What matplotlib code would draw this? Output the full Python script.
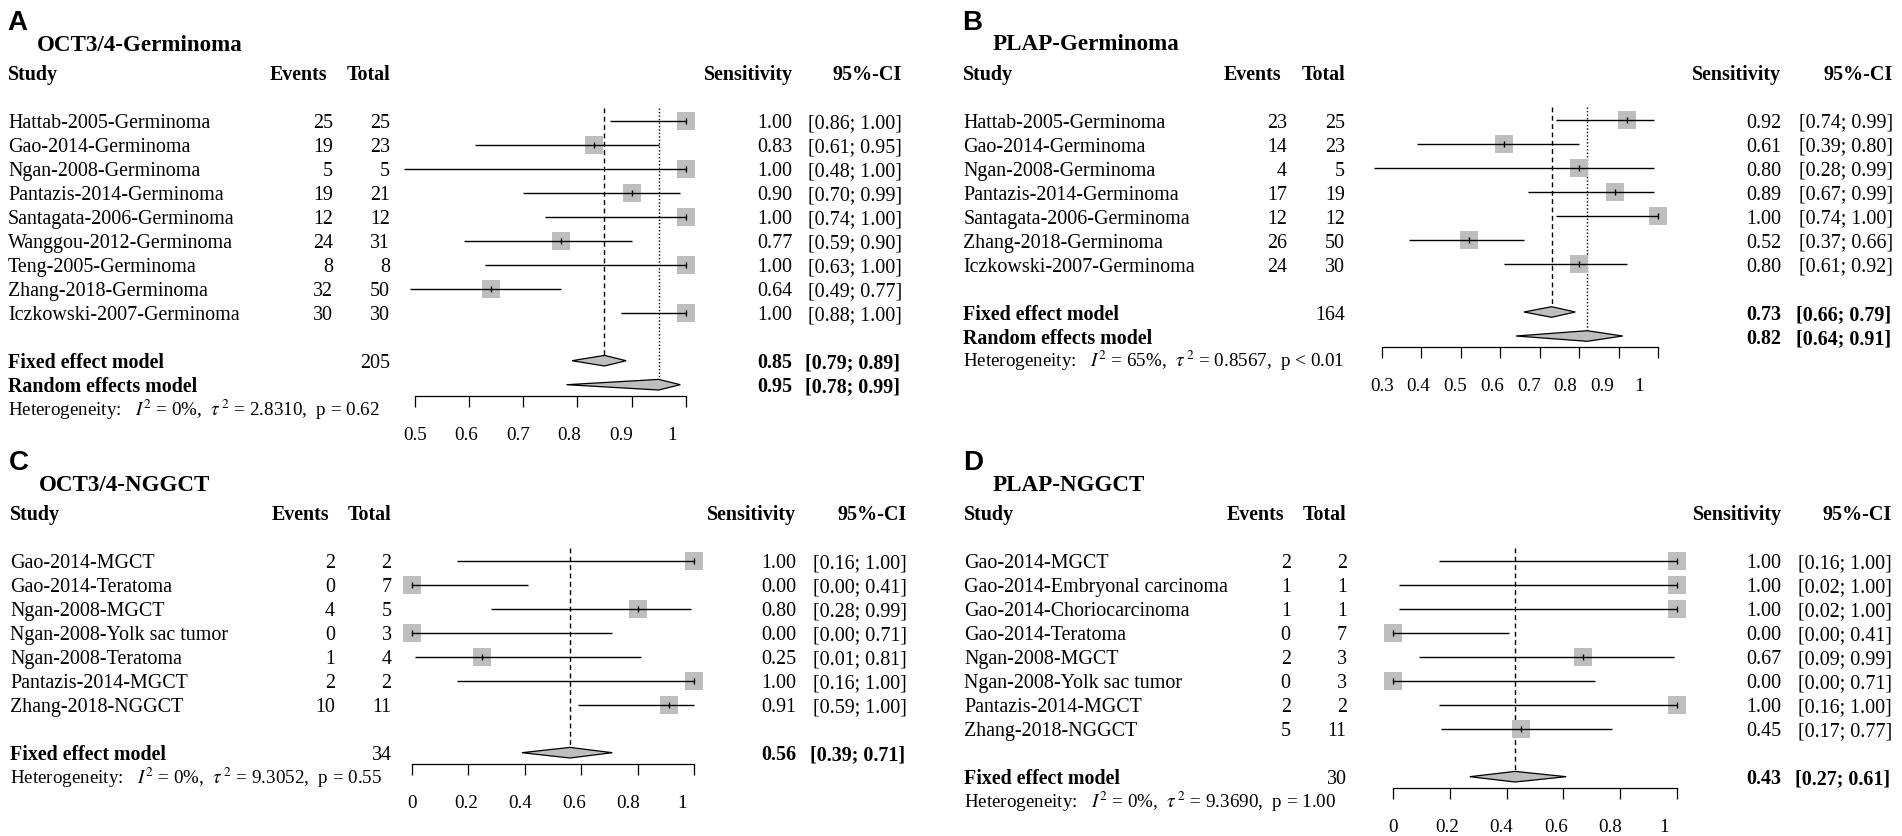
import matplotlib
matplotlib.use("Agg")
import matplotlib.pyplot as plt
from matplotlib.patches import Polygon
from matplotlib.transforms import blended_transform_factory

# ---- data ----
a_studies = ["Hattab-2005-Germinoma", "Gao-2014-Germinoma", "Ngan-2008-Germinoma",
             "Pantazis-2014-Germinoma", "Santagata-2006-Germinoma", "Wanggou-2012-Germinoma",
             "Teng-2005-Germinoma", "Zhang-2018-Germinoma", "Iczkowski-2007-Germinoma"]
a_events = [25, 19, 5, 19, 12, 24, 8, 32, 30]
a_totals = [25, 23, 5, 21, 12, 31, 8, 50, 30]
a_sens = [1.00, 0.83, 1.00, 0.90, 1.00, 0.77, 1.00, 0.64, 1.00]
a_lower = [0.86, 0.61, 0.48, 0.70, 0.74, 0.59, 0.63, 0.49, 0.88]
a_upper = [1.00, 0.95, 1.00, 0.99, 1.00, 0.90, 1.00, 0.77, 1.00]
a_fixed = [0.85, 0.79, 0.89]
a_random = [0.95, 0.78, 0.99]
a_total = 205
a_het = ["0%", "2.8310", "= 0.62"]

b_studies = ["Hattab-2005-Germinoma", "Gao-2014-Germinoma", "Ngan-2008-Germinoma",
             "Pantazis-2014-Germinoma", "Santagata-2006-Germinoma", "Zhang-2018-Germinoma",
             "Iczkowski-2007-Germinoma"]
b_events = [23, 14, 4, 17, 12, 26, 24]
b_totals = [25, 23, 5, 19, 12, 50, 30]
b_sens = [0.92, 0.61, 0.80, 0.89, 1.00, 0.52, 0.80]
b_lower = [0.74, 0.39, 0.28, 0.67, 0.74, 0.37, 0.61]
b_upper = [0.99, 0.80, 0.99, 0.99, 1.00, 0.66, 0.92]
b_fixed = [0.73, 0.66, 0.79]
b_random = [0.82, 0.64, 0.91]
b_total = 164
b_het = ["65%", "0.8567", "< 0.01"]

c_studies = ["Gao-2014-MGCT", "Gao-2014-Teratoma", "Ngan-2008-MGCT", "Ngan-2008-Yolk sac tumor",
             "Ngan-2008-Teratoma", "Pantazis-2014-MGCT", "Zhang-2018-NGGCT"]
c_events = [2, 0, 4, 0, 1, 2, 10]
c_totals = [2, 7, 5, 3, 4, 2, 11]
c_sens = [1.00, 0.00, 0.80, 0.00, 0.25, 1.00, 0.91]
c_lower = [0.16, 0.00, 0.28, 0.00, 0.01, 0.16, 0.59]
c_upper = [1.00, 0.41, 0.99, 0.71, 0.81, 1.00, 1.00]
c_fixed = [0.56, 0.39, 0.71]
c_total = 34
c_het = ["0%", "9.3052", "= 0.55"]

d_studies = ["Gao-2014-MGCT", "Gao-2014-Embryonal carcinoma", "Gao-2014-Choriocarcinoma",
             "Gao-2014-Teratoma", "Ngan-2008-MGCT", "Ngan-2008-Yolk sac tumor",
             "Pantazis-2014-MGCT", "Zhang-2018-NGGCT"]
d_events = [2, 1, 1, 0, 2, 0, 2, 5]
d_totals = [2, 1, 1, 7, 3, 3, 2, 11]
d_sens = [1.00, 1.00, 1.00, 0.00, 0.67, 0.00, 1.00, 0.45]
d_lower = [0.16, 0.02, 0.02, 0.00, 0.09, 0.00, 0.16, 0.17]
d_upper = [1.00, 1.00, 1.00, 0.41, 0.99, 0.71, 1.00, 0.77]
d_fixed = [0.43, 0.27, 0.61]
d_total = 30
d_het = ["0%", "9.3690", "= 1.00"]

a_ticks = [0.5, 0.6, 0.7, 0.8, 0.9, 1.0]
a_ticklabels = ["0.5", "0.6", "0.7", "0.8", "0.9", "1"]
b_ticks = [0.3, 0.4, 0.5, 0.6, 0.7, 0.8, 0.9, 1.0]
b_ticklabels = ["0.3", "0.4", "0.5", "0.6", "0.7", "0.8", "0.9", "1"]
cd_ticks = [0, 0.2, 0.4, 0.6, 0.8, 1.0]
cd_ticklabels = ["0", "0.2", "0.4", "0.6", "0.8", "1"]

W, H = 1902, 837
GRAY = "#BEBEBE"
ROW = 24.0

plt.rcParams['font.family'] = ['Liberation Serif', 'DejaVu Serif']
plt.rcParams['mathtext.fontset'] = 'stix'

fig = plt.figure(figsize=(W / 100, H / 100), dpi=100)


def draw_panel(letter, title, studies, events, totals, sens, lower, upper,
               models, total_all, het, ticks, ticklabels, lay):
    n = len(studies)
    model_rows = [n + 1 + i for i in range(len(models))]
    last = model_rows[-1]
    het_row = last + 1
    axis_row = last + 0.47
    label_row = last + 2.0
    rt, rb = -4.8, label_row + 1.0

    row0 = lay["row0"]
    py_top = row0 + ROW * rt
    py_bot = row0 + ROW * rb
    ax = fig.add_axes([lay["lo_px"] / W, 1 - py_bot / H,
                       (lay["hi_px"] - lay["lo_px"]) / W, (py_bot - py_top) / H])
    lo, hi = ticks[0], ticks[-1]
    ax.set_xlim(lo, hi)
    ax.set_ylim(rb, rt)
    ax.patch.set_visible(False)
    for s in ["top", "left", "right"]:
        ax.spines[s].set_visible(False)
    ax.spines["bottom"].set_position(("data", axis_row))
    ax.spines["bottom"].set_linewidth(0.9)
    ax.set_yticks([])
    ax.set_xticks(ticks)
    ax.tick_params(axis="x", direction="out", length=8, width=0.9, labelbottom=False)

    tx = blended_transform_factory(fig.transFigure, ax.transData)

    def txt(px, r, s, ha="left", bold=False, size=14.4, dy=6.6, family=None):
        kw = {}
        if family:
            kw["family"] = family
        ax.text(px / W, r + dy / ROW, s, transform=tx, ha=ha, va="baseline",
                fontsize=size, fontweight="bold" if bold else "normal",
                clip_on=False, **kw)

    sx = lay["study_x"]
    txt(sx - 1, -4.17, letter, size=20, dy=8.8, bold=True,
        family=["Liberation Sans", "DejaVu Sans"])
    txt(sx + 29, -3.27, title, size=16.6, dy=7.6, bold=True)

    txt(sx, -2, "Study", bold=True)
    txt(lay["ev_r"] - 6, -2, "Events", ha="right", bold=True)
    txt(lay["tot_r"], -2, "Total", ha="right", bold=True)
    txt(lay["sens_r"], -2, "Sensitivity", ha="right", bold=True)
    txt(lay["ci_r"], -2, "95%-CI", ha="right", bold=True)

    rows = list(range(n))
    for i in rows:
        txt(sx, i, studies[i])
        txt(lay["ev_r"], i, str(events[i]), ha="right")
        txt(lay["tot_r"], i, str(totals[i]), ha="right")
        txt(lay["sens_r"], i, "%.2f" % sens[i], ha="right")
        txt(lay["ci_r"], i, "[%.2f; %.2f]" % (lower[i], upper[i]), ha="right")

    ax.scatter(sens, rows, marker="s", s=(18 * 0.72) ** 2, color=GRAY,
               linewidths=0, zorder=2, clip_on=False)
    ax.hlines(rows, lower, upper, color="black", lw=1.0, zorder=3, clip_on=False)
    ax.plot(sens, rows, linestyle="none", marker="|", markersize=5, mew=1.0,
            color="black", zorder=4, clip_on=False)

    dh = 5.3 / ROW
    for (name, vals, ls), r in zip(models, model_rows):
        est, mlo, mhi = vals
        txt(sx, r, name, bold=True)
        if name.startswith("Fixed"):
            txt(lay["tot_r"], r, str(total_all), ha="right")
        txt(lay["sens_r"], r, "%.2f" % est, ha="right", bold=True)
        txt(lay["ci_r"] - 2, r, "[%.2f; %.2f]" % (mlo, mhi), ha="right", bold=True)
        ax.add_patch(Polygon([(mlo, r), (est, r - dh), (mhi, r), (est, r + dh)],
                             closed=True, fc=GRAY, ec="black", lw=0.9, zorder=3,
                             clip_on=False))
        ax.vlines(est, -0.55, r - dh, color="black", lw=1.0, linestyles=ls, zorder=1)

    i2, tau2, p = het
    txt(sx, het_row,
        r"Heterogeneity:   $I^2$ = %s,  $\tau^{\,2}$ = %s,  p %s" % (i2, tau2, p),
        size=13.7, dy=6.3)

    k = lay["k"]
    for v, lab in zip(ticks, ticklabels):
        ax.text(lo + (v - lo) * k, label_row + 6.4 / ROW, lab, ha="center",
                va="baseline", fontsize=13.7, clip_on=False)


dashed = (0, (3.5, 2.5))
dotted = (0, (1, 1.5))

draw_panel("A", "OCT3/4-Germinoma", a_studies, a_events, a_totals, a_sens, a_lower, a_upper,
           [("Fixed effect model", a_fixed, dashed), ("Random effects model", a_random, dotted)],
           a_total, a_het, a_ticks, a_ticklabels,
           dict(row0=121.7, study_x=8, ev_r=333, tot_r=390, sens_r=792.7, ci_r=902,
                lo_px=415.0, hi_px=685.7, k=0.95))

draw_panel("B", "PLAP-Germinoma", b_studies, b_events, b_totals, b_sens, b_lower, b_upper,
           [("Fixed effect model", b_fixed, dashed), ("Random effects model", b_random, dotted)],
           b_total, b_het, b_ticks, b_ticklabels,
           dict(row0=121.0, study_x=963.3, ev_r=1287, tot_r=1345, sens_r=1781, ci_r=1893,
                lo_px=1381.7, hi_px=1658.3, k=0.93))

draw_panel("C", "OCT3/4-NGGCT", c_studies, c_events, c_totals, c_sens, c_lower, c_upper,
           [("Fixed effect model", c_fixed, dashed)],
           c_total, c_het, cd_ticks, cd_ticklabels,
           dict(row0=561.7, study_x=10, ev_r=335, tot_r=391.5, sens_r=796, ci_r=907,
                lo_px=411.7, hi_px=694.3, k=0.957))

draw_panel("D", "PLAP-NGGCT", d_studies, d_events, d_totals, d_sens, d_lower, d_upper,
           [("Fixed effect model", d_fixed, dashed)],
           d_total, d_het, cd_ticks, cd_ticklabels,
           dict(row0=561.7, study_x=964, ev_r=1290.7, tot_r=1346.7, sens_r=1781.6, ci_r=1892,
                lo_px=1393.3, hi_px=1676.7, k=0.955))

fig.savefig("out.png", dpi=100)
